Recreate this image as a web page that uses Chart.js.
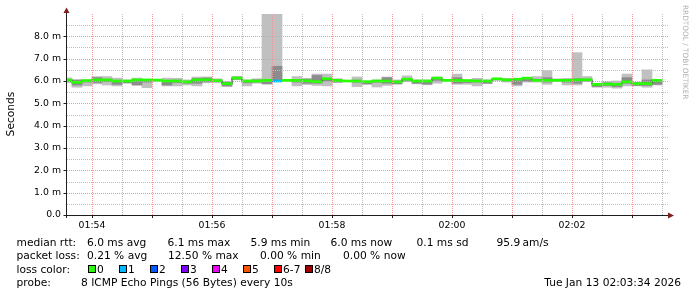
<!DOCTYPE html>
<html>
<head>
<meta charset="utf-8">
<script src="https://cdn.jsdelivr.net/npm/chart.js@4.4.1/dist/chart.umd.min.js"></script>
<style>
  html, body { margin: 0; padding: 0; background: #fff; }
  canvas { display: block; }
</style>
</head>
<body>
<canvas id="c" width="697" height="297"></canvas>
<script>
// one entry per 10 s step, starting 01:53:30, values in ms
const stepSeconds = 10;
const pingMin = [5.92, 5.72, 5.78, 5.87, 5.82, 5.78, 5.90, 5.80, 5.70, 6.00,
                 5.78, 5.78, 5.82, 5.78, 5.92, 5.92, 5.75, 6.05, 5.78, 5.90,
                 5.87, 5.98, 6.00, 5.78, 5.84, 5.80, 5.78, 5.93, 5.97, 5.75,
                 5.85, 5.73, 5.80, 5.85, 5.97, 5.87, 5.83, 5.90, 6.00, 5.85,
                 5.85, 5.78, 5.88, 6.03, 5.95, 5.78, 5.95, 5.95, 5.85, 5.97,
                 5.82, 5.82, 5.97, 5.72, 5.72, 5.68, 5.78, 5.78, 5.72, 5.82];
const pingQ1  = [5.98, 5.82, 5.95, 5.93, 5.97, 5.85, 5.92, 5.83, 5.95, 6.02,
                 5.82, 5.93, 5.90, 5.90, 5.96, 5.97, 5.78, 6.08, 5.92, 5.95,
                 5.87, 6.00, 6.02, 5.95, 5.90, 5.90, 6.00, 5.95, 5.98, 5.95,
                 5.87, 5.95, 5.90, 5.88, 6.03, 5.90, 5.86, 6.03, 6.01, 5.90,
                 5.93, 5.95, 5.90, 6.05, 6.00, 5.85, 5.98, 6.00, 5.95, 6.00,
                 5.95, 5.90, 6.00, 5.75, 5.80, 5.75, 5.90, 5.80, 5.80, 5.85];
const pingQ3  = [6.06, 6.04, 6.03, 6.15, 6.08, 5.98, 6.03, 6.02, 6.03, 6.06,
                 5.98, 6.04, 6.00, 6.12, 6.14, 6.04, 5.95, 6.18, 6.02, 6.05,
                 6.00, 6.66, 6.05, 6.05, 6.08, 6.25, 6.12, 6.08, 6.02, 6.04,
                 5.97, 6.02, 6.15, 6.00, 6.12, 6.02, 6.00, 6.15, 6.05, 6.15,
                 6.03, 6.04, 6.02, 6.10, 6.08, 6.05, 6.08, 6.08, 6.15, 6.06,
                 6.05, 6.10, 6.08, 5.88, 5.92, 5.88, 6.15, 5.92, 6.05, 6.03];
const pingMax = [6.14, 6.06, 6.05, 6.20, 6.20, 6.13, 6.05, 6.13, 6.05, 6.07,
                 6.13, 6.12, 6.05, 6.18, 6.18, 6.10, 5.97, 6.20, 6.05, 6.10,
                 9.00, 9.00, 6.06, 6.20, 6.12, 6.31, 6.31, 6.10, 6.03, 6.18,
                 6.00, 6.05, 6.18, 6.05, 6.23, 6.05, 6.05, 6.18, 6.06, 6.31,
                 6.05, 6.12, 6.05, 6.12, 6.12, 6.12, 6.15, 6.20, 6.46, 6.10,
                 6.12, 7.27, 6.20, 5.90, 5.97, 6.00, 6.31, 5.95, 6.50, 6.05];
const pingMedian = [6.04, 5.94, 6.02, 6.05, 6.05, 6.00, 6.00, 6.05, 6.05, 6.04,
                    6.00, 6.00, 5.96, 6.05, 6.06, 6.02, 5.88, 6.13, 6.00, 6.00,
                    6.03, 6.00, 6.03, 6.03, 6.01, 5.97, 6.10, 6.03, 6.00, 6.00,
                    5.97, 6.00, 6.00, 5.96, 6.08, 6.00, 6.00, 6.13, 6.03, 6.03,
                    6.02, 6.00, 6.00, 6.10, 6.05, 6.08, 6.13, 6.03, 6.03, 6.03,
                    6.03, 6.05, 6.06, 5.85, 5.86, 5.85, 5.96, 5.88, 5.88, 6.03];
const lostPings = [0, 0, 0, 0, 0, 0, 0, 0, 0, 0,
                   0, 0, 0, 0, 0, 0, 0, 0, 0, 0,
                   0, 1, 0, 0, 0, 0, 0, 0, 0, 0,
                   0, 0, 0, 0, 0, 0, 0, 0, 0, 0,
                   0, 0, 0, 0, 0, 0, 0, 0, 0, 0,
                   0, 0, 0, 0, 0, 0, 0, 0, 0, 0];

const lossColors = ['#26ff00', '#00b8ff', '#0059ff', '#7e00ff', '#ee00ff', '#ff5500', '#ff0000', '#a10000'];
const lossLabels = ['0', '1', '2', '3', '4', '5', '6-7', '8/8'];

const xTickTimes = [30, 150, 270, 390, 510];
const xTickLabels = ['01:54', '01:56', '01:58', '02:00', '02:02'];
const yTickLabels = ['0.0', '1.0 m', '2.0 m', '3.0 m', '4.0 m', '5.0 m', '6.0 m', '7.0 m', '8.0 m'];

const legendRows = [
  [[16.5, 'median rtt:'], [87, '6.0 ms avg'], [167.5, '6.1 ms max'], [250.5, '5.9 ms min'],
   [330.5, '6.0 ms now'], [416.5, '0.1 ms sd'], [496.5, '95.9'], [522.5, 'am/s']],
  [[16.5, 'packet loss:'], [87, '0.21 % avg'], [168, '12.50 % max'], [260, '0.00 % min'], [343, '0.00 % now']],
  [[16.5, 'loss color:']],
  [[16.5, 'probe:'], [81, '8 ICMP Echo Pings (56 Bytes) every 10s']]
];
const stampText = 'Tue Jan 13 02:03:34 2026';
const watermark = 'RRDTOOL / TOBI OETIKER';

function lossIndex(n) {
  if (n >= 8) return 7;
  if (n >= 6) return 6;
  return n;
}

const mid = i => i * stepSeconds + stepSeconds / 2;
const halfBand = 0.045;

const outerSmoke = pingMin.map((v, i) => ({ x: mid(i), y: [v, pingMax[i]] }));
const innerSmoke = pingQ1.map((v, i) => ({ x: mid(i), y: [v, pingQ3[i]] }));
const medianBand = pingMedian.map((v, i) => ({ x: mid(i), y: [v - halfBand, v + halfBand] }));
const medianLine = pingMedian.map((v, i) => ({ x: mid(i), y: v }));

const FONT = 'DejaVu Sans';
Chart.defaults.font.family = FONT;
Chart.defaults.color = '#000';

const gridGray = 'rgb(190,190,190)';
const gridRed = 'rgb(242,150,150)';
const axisColor = '#1f1f1f';
const isMinute = v => (v - 30) % 60 === 0;

// rrdtool style grid (drawn over the data), axes, arrows and legend text
const rrdDecor = {
  id: 'rrdDecor',
  beforeDraw(chart) {
    const ctx = chart.ctx;
    ctx.save();
    ctx.fillStyle = '#fff';
    ctx.fillRect(0, 0, chart.width, chart.height);
    ctx.restore();
  },
  afterDatasetsDraw(chart) {
    const ctx = chart.ctx;
    const a = chart.chartArea;
    const xs = chart.scales.x, ys = chart.scales.y;
    ctx.save();
    ctx.lineWidth = 1;
    ctx.setLineDash([1, 1]);
    ys.ticks.forEach(t => {
      if (t.value <= 0 || t.value >= ys.max) return;
      const y = Math.round(ys.getPixelForValue(t.value)) + 0.5;
      ctx.strokeStyle = Number.isInteger(t.value) ? gridRed : gridGray;
      ctx.beginPath();
      ctx.moveTo(a.left, y);
      ctx.lineTo(a.right, y);
      ctx.stroke();
    });
    xs.ticks.forEach(t => {
      const x = Math.round(xs.getPixelForValue(t.value)) + 0.5;
      ctx.strokeStyle = isMinute(t.value) ? gridRed : gridGray;
      ctx.beginPath();
      ctx.moveTo(x, a.top);
      ctx.lineTo(x, a.bottom);
      ctx.stroke();
    });
    ctx.restore();
  },
  afterDraw(chart) {
    const ctx = chart.ctx;
    const a = chart.chartArea;
    const xs = chart.scales.x, ys = chart.scales.y;
    ctx.save();
    ctx.strokeStyle = axisColor;
    ctx.lineWidth = 1;
    ctx.beginPath();
    ctx.moveTo(64, a.bottom + 0.5);
    ctx.lineTo(670, a.bottom + 0.5);
    ctx.moveTo(a.left - 0.5, a.bottom + 3);
    ctx.lineTo(a.left - 0.5, 11);
    // tick marks
    ys.ticks.forEach(t => {
      if (!Number.isInteger(t.value) || t.value >= ys.max) return;
      const y = Math.round(ys.getPixelForValue(t.value)) + 0.5;
      ctx.moveTo(a.left - 3.5, y);
      ctx.lineTo(a.left - 0.5, y);
    });
    xs.ticks.forEach(t => {
      if (!isMinute(t.value)) return;
      const x = Math.round(xs.getPixelForValue(t.value)) + 0.5;
      ctx.moveTo(x, a.bottom);
      ctx.lineTo(x, a.bottom + 3);
    });
    ctx.stroke();
    // arrows
    ctx.fillStyle = '#801f1f';
    ctx.beginPath();
    ctx.moveTo(668, a.bottom - 2.5);
    ctx.lineTo(674, a.bottom + 0.5);
    ctx.lineTo(668, a.bottom + 3.5);
    ctx.closePath();
    ctx.fill();
    ctx.beginPath();
    ctx.moveTo(a.left - 3.5, 13);
    ctx.lineTo(a.left - 0.5, 7.5);
    ctx.lineTo(a.left + 2.5, 13);
    ctx.closePath();
    ctx.fill();

    // unit title
    ctx.fillStyle = '#000';
    ctx.font = '10.67px ' + FONT;
    ctx.textAlign = 'center';
    ctx.textBaseline = 'middle';
    ctx.save();
    ctx.translate(11, 114);
    ctx.rotate(-Math.PI / 2);
    ctx.fillText('Seconds', 0, 0);
    ctx.restore();

    // watermark
    ctx.save();
    ctx.fillStyle = '#b0b0b0';
    ctx.font = '7.33px ' + FONT;
    ctx.textAlign = 'left';
    ctx.translate(685, 5);
    ctx.rotate(Math.PI / 2);
    ctx.fillText(watermark, 0, 0);
    ctx.restore();

    // legend
    ctx.font = '10.67px ' + FONT;
    ctx.textAlign = 'left';
    ctx.textBaseline = 'alphabetic';
    const baselines = [245.5, 259, 272.5, 286];
    legendRows.forEach((row, r) => {
      row.forEach(([x, t]) => ctx.fillText(t, x, baselines[r]));
    });
    lossColors.forEach((c, i) => {
      const x = 88 + i * 31;
      ctx.fillStyle = c;
      ctx.fillRect(x + 0.5, 265.5, 7, 7);
      ctx.strokeStyle = '#000';
      ctx.strokeRect(x + 0.5, 265.5, 7, 7);
      ctx.fillStyle = '#000';
      ctx.fillText(lossLabels[i], x + 9, baselines[2]);
    });
    ctx.textAlign = 'right';
    ctx.fillText(stampText, 681, baselines[3]);
    ctx.restore();
  }
};

const barBase = { type: 'bar', grouped: false, barPercentage: 1, categoryPercentage: 1, borderWidth: 0, clip: 0 };

new Chart(document.getElementById('c'), {
  type: 'bar',
  data: {
    datasets: [
      Object.assign({}, barBase, {
        data: medianBand,
        backgroundColor: lostPings.map(n => lossColors[lossIndex(n)]),
        order: 0
      }),
      {
        type: 'line',
        data: medianLine,
        stepped: 'middle',
        borderColor: '#202020',
        borderWidth: 1,
        pointRadius: 0,
        fill: false,
        clip: 0,
        order: 1
      },
      Object.assign({}, barBase, { data: innerSmoke, backgroundColor: '#8c8c8c', order: 2 }),
      Object.assign({}, barBase, { data: outerSmoke, backgroundColor: '#c0c0c0', order: 3 })
    ]
  },
  options: {
    responsive: false,
    animation: false,
    devicePixelRatio: 1,
    layout: { padding: { top: 14, right: 29, left: 0, bottom: 0 } },
    plugins: { legend: { display: false }, tooltip: { enabled: false } },
    scales: {
      x: {
        type: 'linear',
        min: 5,
        max: 606,
        offset: false,
        afterFit(scale) { scale.height = 82; },
        grid: { display: false, drawTicks: false },
        border: { display: false },
        ticks: {
          stepSize: 30,
          includeBounds: false,
          autoSkip: false,
          maxRotation: 0,
          maxTicksLimit: 100,
          padding: 5,
          font: { size: 9.33 },
          callback: v => {
            const k = xTickTimes.indexOf(v);
            return k >= 0 ? xTickLabels[k] : '';
          }
        }
      },
      y: {
        type: 'linear',
        min: 0,
        max: 9,
        afterFit(scale) { scale.width = 67; },
        grid: { display: false, drawTicks: false },
        border: { display: false },
        ticks: {
          stepSize: 0.5,
          autoSkip: false,
          maxTicksLimit: 100,
          padding: 6,
          font: { size: 9.33 },
          callback: v => (Number.isInteger(v) && v < yTickLabels.length) ? yTickLabels[v] : ''
        }
      }
    }
  },
  plugins: [rrdDecor]
});
</script>
</body>
</html>
